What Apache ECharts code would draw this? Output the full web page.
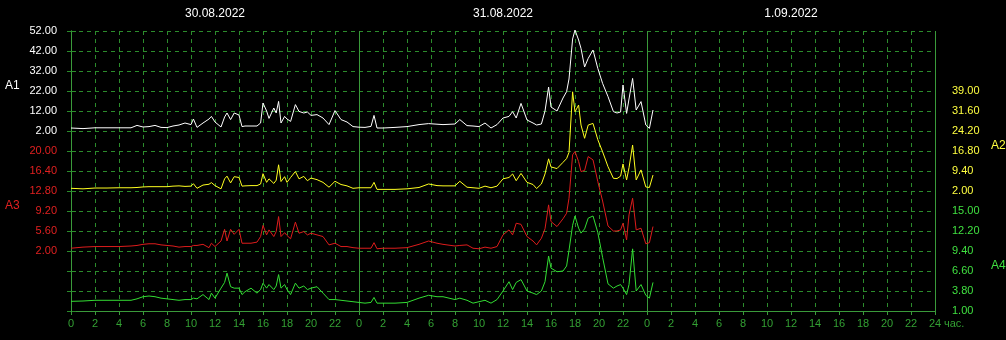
<!DOCTYPE html>
<html>
<head>
<meta charset="utf-8">
<script src="https://cdn.jsdelivr.net/npm/echarts/dist/echarts.min.js"></script>
<style>
html,body{margin:0;padding:0;background:#000;}
#chart{width:1006px;height:340px;}
</style>
</head>
<body>
<div id="chart"></div>
<script>
// Day labels on top
const DATES = ['30.08.2022', '31.08.2022', '1.09.2022'];

// Time of each sample, hours from 30.08.2022 00:00
const HOURS = [
  0, 1, 2, 3, 4, 5, 5.5, 6, 6.5, 7,
  7.5, 8, 8.5, 9, 9.5, 10, 10.2, 10.5, 11, 11.5,
  11.7, 12, 12.5, 12.8, 13, 13.3, 13.6, 14, 14.25, 14.5,
  15, 15.5, 15.8, 16, 16.3, 16.5, 16.9, 17.1, 17.3, 17.5,
  17.8, 18, 18.3, 18.7, 19, 19.4, 19.7, 20, 20.5, 21,
  21.5, 22, 22.5, 23, 23.5, 24, 24.5, 25, 25.25, 25.5,
  26, 27, 28, 29, 29.8, 30.5, 31, 32, 32.4, 33,
  33.5, 34, 34.5, 35, 35.5, 36, 36.5, 36.8, 37.1, 37.5,
  38, 38.5, 38.8, 39.2, 39.5, 39.8, 40, 40.5, 41, 41.3,
  41.5, 41.8, 42, 42.3, 42.5, 42.8, 43.1, 43.5, 43.9, 44.3,
  44.75, 45.2, 45.5, 45.8, 46, 46.3, 46.5, 46.8, 47.1, 47.5,
  47.9, 48.2, 48.5
];

const A1 = [
  3.5, 3.2, 3.6, 3.6, 3.6, 3.6, 4.8, 4.0, 4.2, 4.8,
  3.8, 3.7, 4.5, 5.0, 6.0, 5.2, 8.0, 3.8, 6.0, 8.0,
  9.3, 6.5, 4.0, 9.0, 11.0, 7.7, 11.0, 10.0, 4.2, 4.5,
  4.5, 4.5, 6.0, 16.0, 12.0, 8.3, 13.5, 11.0, 16.8, 6.0,
  9.3, 8.0, 6.8, 15.2, 11.8, 11.0, 11.5, 9.8, 10.2, 8.5,
  5.2, 12.2, 7.7, 6.5, 4.2, 3.9, 3.8, 4.3, 9.8, 3.5,
  3.5, 3.8, 4.2, 5.2, 5.7, 5.4, 5.2, 5.5, 7.7, 4.7,
  4.5, 4.2, 6.0, 3.5, 5.2, 8.5, 9.3, 11.7, 8.5, 15.8,
  7.5, 6.0, 5.0, 5.5, 12.0, 24.0, 14.0, 12.0, 18.5, 21.7,
  28.0, 48.0, 52.5, 47.5, 43.3, 34.0, 38.3, 42.5, 33.3, 25.8,
  19.2, 11.7, 11.0, 11.5, 25.0, 10.8, 18.0, 28.3, 12.5, 16.7,
  5.0, 3.3, 12.5
];

const A2 = [
  3.0, 2.8, 3.1, 3.1, 3.2, 3.2, 3.3, 3.5, 3.6, 3.6,
  3.6, 3.6, 3.8, 3.9, 3.7, 3.8, 4.7, 3.0, 4.2, 4.5,
  5.1, 4.0, 2.8, 6.5, 7.5, 5.0, 7.3, 7.0, 3.8, 3.9,
  4.0, 4.0, 4.6, 8.4, 5.2, 6.5, 4.8, 6.0, 11.7, 5.5,
  7.3, 5.2, 7.0, 9.2, 6.5, 7.4, 5.8, 6.8, 6.2, 5.2,
  3.4, 5.6, 4.4, 3.9, 3.0, 3.2, 3.2, 3.2, 5.2, 2.6,
  2.6, 2.6, 2.8, 3.3, 4.6, 4.0, 3.9, 3.9, 5.6, 3.4,
  3.2, 3.0, 3.8, 3.2, 3.8, 6.5, 7.0, 8.3, 5.8, 8.5,
  5.2, 4.4, 2.9, 4.6, 8.3, 13.9, 10.9, 10.3, 12.6, 14.0,
  16.3, 38.7, 31.3, 33.8, 26.4, 21.5, 26.4, 27.0, 21.0, 16.5,
  11.0, 6.7, 6.6, 7.5, 12.0, 6.1, 10.6, 19.0, 6.1, 9.8,
  3.5, 3.3, 7.9
];

const A3 = [
  2.5, 2.7, 2.8, 2.8, 2.8, 2.9, 3.0, 3.2, 3.3, 3.3,
  3.1, 3.0, 2.9, 2.7, 2.8, 2.8, 3.0, 3.0, 3.2, 2.6,
  3.4, 2.8, 3.8, 5.9, 3.8, 5.9, 5.0, 5.9, 3.4, 3.4,
  3.4, 3.6, 4.6, 6.6, 4.9, 5.8, 4.6, 5.5, 8.2, 4.6,
  5.3, 4.8, 4.2, 7.2, 5.2, 5.5, 4.9, 5.2, 4.9, 4.6,
  3.1, 3.4, 2.8, 2.8, 2.6, 2.5, 2.5, 2.5, 3.5, 2.4,
  2.5, 2.5, 2.6, 3.2, 3.8, 3.4, 3.2, 2.9, 3.0, 3.1,
  2.5, 2.4, 2.7, 2.5, 2.8, 4.9, 5.8, 4.9, 7.0, 6.8,
  4.6, 3.8, 3.1, 4.3, 6.0, 10.3, 7.3, 6.4, 7.8, 8.8,
  11.5, 19.3, 19.9, 18.1, 16.3, 16.5, 19.0, 18.4, 14.5, 11.0,
  6.5, 5.6, 5.6, 5.8, 7.0, 4.0, 8.5, 11.5, 5.8, 6.1,
  3.3, 3.5, 6.4
];

const A4 = [
  2.35, 2.4, 2.5, 2.5, 2.5, 2.5, 2.7, 3.0, 3.1, 3.0,
  2.8, 2.7, 2.6, 2.5, 2.6, 2.6, 2.8, 2.7, 3.3, 2.6,
  3.5, 2.8, 4.2, 5.0, 6.3, 4.4, 4.2, 4.2, 3.3, 3.7,
  4.2, 3.5, 4.0, 4.9, 4.2, 4.7, 4.0, 4.5, 6.1, 4.2,
  4.7, 4.0, 3.3, 4.9, 4.2, 4.5, 4.0, 4.2, 4.4, 3.5,
  2.6, 2.6, 2.5, 2.4, 2.3, 2.2, 2.1, 2.2, 2.9, 2.1,
  2.1, 2.1, 2.2, 2.8, 3.2, 3.0, 3.0, 2.6, 2.8, 2.5,
  2.1, 2.3, 2.5, 2.1, 2.6, 3.8, 5.1, 4.0, 5.0, 5.4,
  3.8, 3.5, 3.3, 3.8, 5.1, 8.7, 7.0, 6.5, 6.6, 7.3,
  9.5, 13.0, 14.3, 12.6, 11.9, 12.5, 14.0, 14.3, 12.0, 8.5,
  4.8, 4.2, 4.5, 4.7, 4.2, 3.3, 4.7, 9.7, 3.8, 4.7,
  3.2, 2.8, 5.0
];

// Tick ranges of each band axis (as printed): [min, max, step]
const A1_RANGE = [2, 52, 10];
const A2_RANGE = [2, 39, 7.4];
const A3_RANGE = [2, 20, 3.6];
const A4_RANGE = [1, 15, 2.8];

const FONT = '"Liberation Sans", Arial, sans-serif';
const GRID_DASH = '#2c8c2c';
const AXIS_SOLID = '#3a9a3a';
const X_LABEL = '#33a033';

const L = 71, W = 864, T = 31, H = 280, BAND = 100;

const chart = echarts.init(document.getElementById('chart'), null, {renderer: 'canvas'});

function bandY(idx, pos, range, color) {
  return {
    type: 'value', gridIndex: idx, position: pos,
    min: range[0], max: range[1], interval: range[2],
    axisLine: {show: false}, axisTick: {show: false}, splitLine: {show: false},
    axisLabel: {color: color, fontFamily: FONT, fontSize: 11,
      margin: pos === 'left' ? 14 : 17,
      formatter: v => v.toFixed(2)}
  };
}
function hiddenX(idx) {
  return {type: 'value', gridIndex: idx, min: 0, max: 72, show: false};
}
function pairs(vals) { return HOURS.map((h, i) => [h, vals[i]]); }
function line(name, xi, yi, vals, color) {
  return {
    name: name, type: 'line', xAxisIndex: xi, yAxisIndex: yi,
    data: pairs(vals), showSymbol: false, clip: false,
    lineStyle: {color: color, width: 1}, itemStyle: {color: color},
    emphasis: {disabled: true}
  };
}
function txt(text, left, top, color) {
  return {type: 'text', left: left, top: top, silent: true,
    style: {text: text, fill: color, font: '12px ' + FONT}};
}

const option = {
  backgroundColor: '#000',
  animation: false,
  grid: [
    {left: L, top: T, width: W, height: H},
    {left: L, top: T, width: W, height: BAND},
    {left: L, top: T + 60, width: W, height: BAND},
    {left: L, top: T + 120, width: W, height: BAND},
    {left: L, top: T + 180, width: W, height: BAND}
  ],
  xAxis: [
    {
      type: 'value', gridIndex: 0, position: 'bottom', min: 0, max: 72, interval: 2,
      axisLine: {lineStyle: {color: AXIS_SOLID, width: 1}},
      axisTick: {show: true, length: 4, lineStyle: {color: AXIS_SOLID}},
      splitLine: {show: true, lineStyle: {color: GRID_DASH, type: [4, 4], width: 1}},
      axisLabel: {color: X_LABEL, fontFamily: FONT, fontSize: 11, margin: 7,
        formatter: v => (v === 72 ? '24' : String(v % 24))}
    },
    {
      type: 'category', gridIndex: 0, position: 'top', data: DATES, boundaryGap: true,
      axisLine: {lineStyle: {color: AXIS_SOLID, width: 1}},
      axisTick: {show: false}, splitLine: {show: false},
      axisLabel: {color: '#ffffff', fontFamily: FONT, fontSize: 12, margin: 11}
    },
    {
      type: 'value', gridIndex: 0, position: 'bottom', min: 0, max: 72, interval: 24,
      axisLine: {show: false}, axisTick: {show: false}, axisLabel: {show: false},
      splitLine: {show: true, lineStyle: {color: AXIS_SOLID, type: 'solid', width: 1}}
    },
    hiddenX(1), hiddenX(2), hiddenX(3), hiddenX(4)
  ],
  yAxis: [
    {
      type: 'value', gridIndex: 0, position: 'left', min: 0, max: 14, interval: 1,
      axisLine: {show: true, lineStyle: {color: AXIS_SOLID, width: 1}},
      axisTick: {show: true, length: 4, lineStyle: {color: GRID_DASH}},
      axisLabel: {show: false},
      splitLine: {show: true, lineStyle: {color: GRID_DASH, type: [4, 4], width: 1}}
    },
    {
      type: 'value', gridIndex: 0, position: 'right', min: 0, max: 14, interval: 1,
      axisLine: {show: true, lineStyle: {color: AXIS_SOLID, width: 1}},
      axisTick: {show: true, length: 5, lineStyle: {color: GRID_DASH}},
      axisLabel: {show: false}, splitLine: {show: false}
    },
    bandY(1, 'left', A1_RANGE, '#ffffff'),
    bandY(2, 'right', A2_RANGE, '#ffff40'),
    bandY(3, 'left', A3_RANGE, '#e02020'),
    bandY(4, 'right', A4_RANGE, '#40e040')
  ],
  graphic: [
    txt('A1', 5, 80, '#ffffff'),
    txt('A3', 5, 200, '#e02020'),
    txt('A2', 991, 140, '#ffff40'),
    txt('A4', 991, 260, '#40e040'),
    {type: 'text', left: 944, top: 318, silent: true,
      style: {text: 'час.', fill: X_LABEL, font: '11px ' + FONT}}
  ],
  series: [
    line('A1', 3, 2, A1, '#ffffff'),
    line('A2', 4, 3, A2, '#ffff20'),
    line('A3', 5, 4, A3, '#dd1c1c'),
    line('A4', 6, 5, A4, '#33dd33')
  ]
};
chart.setOption(option);
</script>
</body>
</html>
